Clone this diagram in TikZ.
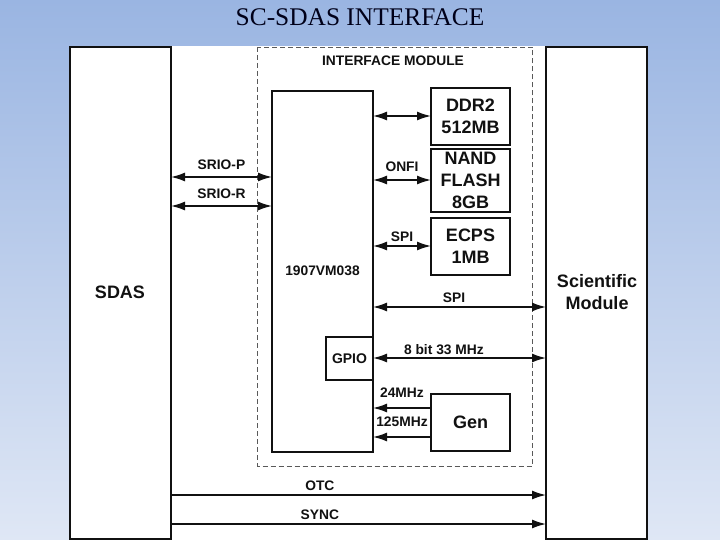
\documentclass[tikz,border=0pt]{standalone}
\usepackage{fontspec}
\usetikzlibrary{arrows.meta}
\setmainfont{Liberation Serif}
\setsansfont{Liberation Sans}
\definecolor{bgtop}{HTML}{9AB5E2}
\definecolor{bgbot}{HTML}{DFE7F5}
\definecolor{ink}{HTML}{111111}
\tikzset{
  block/.style={draw=ink, line width=1.9pt, inner sep=0pt, outer sep=0pt, anchor=north west, align=center, font=\sffamily\bfseries\fontsize{18}{22}\selectfont, text=ink},
  bus/.style={draw=ink, line width=1.5pt},
  tag/.style={font=\sffamily\bfseries\fontsize{13.8}{16}\selectfont, text=ink, inner sep=0pt},
  tip/.style={-{Latex[length=14pt,width=9pt]}},
  bitip/.style={{Latex[length=14pt,width=9pt]}-{Latex[length=14pt,width=9pt]}},
}
\begin{document}
\begin{tikzpicture}[x=1pt, y=-1pt]
\useasboundingbox (0,0) rectangle (720,540);
%background
\shade[top color=bgtop, bottom color=bgbot] (0,0) rectangle (720,540);
\fill[white] (69,46) rectangle (648,540);
\node[font=\fontsize{25.4}{28}\selectfont, text=black!90!blue, inner sep=0pt] (title) at (360,17) {SC-SDAS INTERFACE};
%outer blocks
\node[block, minimum width=101pt, minimum height=492pt] (sdas) at (70,47) {};
\node[block, minimum width=101pt, minimum height=492pt] (sci) at (546,47) {};
\node[block, draw=none, anchor=center] (sdaslabel) at (120,292) {SDAS};
\node[block, draw=none, anchor=center] (scilabel) at (597,292) {Scientific\\Module};
%module
\draw[draw=black!65, line width=0.8pt, dash pattern=on 5pt off 3pt] (257.5,47) rectangle (532,466);
\node[tag] (module) at (393,61) {INTERFACE MODULE};
%cpu and memories
\node[block, minimum width=101pt, minimum height=361pt] (cpu) at (272,91) {};
\node[tag] (cpulabel) at (322.5,271) {1907VM038};
\node[block, minimum width=79pt, minimum height=57pt] (ddr) at (431,88) {DDR2\\512MB};
\node[block, minimum width=79pt, minimum height=63pt] (nand) at (431,149) {NAND\\FLASH\\8GB};
\node[block, minimum width=79pt, minimum height=57pt] (ecps) at (431,218) {ECPS\\1MB};
\node[block, minimum width=47pt, minimum height=43pt, font=\sffamily\bfseries\fontsize{14}{16}\selectfont] (gpio) at (326,337) {GPIO};
\node[block, minimum width=79pt, minimum height=57pt] (gen) at (431,394) {Gen};
%buses
\draw[bus, bitip] (sdas.east |- 0,177) -- (cpu.west |- 0,177) node[tag, midway, yshift=12pt] (sriop) {SRIO-P};
\draw[bus, bitip] (sdas.east |- 0,206) -- (cpu.west |- 0,206) node[tag, midway, yshift=12pt] (srior) {SRIO-R};
\draw[bus, bitip] (cpu.east |- 0,116) -- (ddr.west |- 0,116);
\draw[bus, bitip] (cpu.east |- 0,180) -- (nand.west |- 0,180) node[tag, midway, yshift=13pt] (onfi) {ONFI};
\draw[bus, bitip] (cpu.east |- 0,246) -- (ecps.west |- 0,246) node[tag, midway, yshift=9pt] (spimem) {SPI};
\draw[bus, bitip] (cpu.east |- 0,307) -- (sci.west |- 0,307) node[tag, pos=0.468, yshift=9pt] (spisci) {SPI};
\draw[bus, bitip] (gpio.east |- 0,358) -- (sci.west |- 0,358) node[tag, pos=0.41, yshift=8pt] (gpiobus) {8 bit 33 MHz};
\draw[bus, tip] (gen.west |- 0,408) -- (cpu.east |- 0,408) node[tag, midway, yshift=15pt] (clka) {24MHz};
\draw[bus, tip] (gen.west |- 0,437) -- (cpu.east |- 0,437) node[tag, midway, yshift=15pt] (clkb) {125MHz};
\draw[bus, tip] (sdas.east |- 0,495) -- (sci.west |- 0,495) node[tag, pos=0.397, yshift=9pt] (otc) {OTC};
\draw[bus, tip] (sdas.east |- 0,524) -- (sci.west |- 0,524) node[tag, pos=0.397, yshift=9pt] (sync) {SYNC};
\end{tikzpicture}
\end{document}
